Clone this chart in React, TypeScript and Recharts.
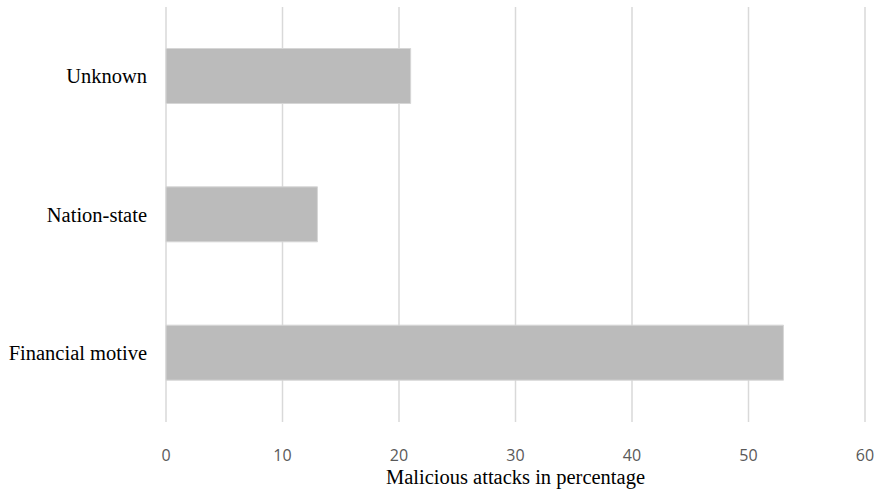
import React from 'react';
import { BarChart, Bar, XAxis, YAxis, CartesianGrid, Label } from 'recharts';

const motives = ['Unknown', 'Nation-state', 'Financial motive'];
const attackShare = [21, 13, 53];
const xTicks = [0, 10, 20, 30, 40, 50, 60];

const data = motives.map((motive, i) => ({ motive, share: attackShare[i] }));

const serif = '"Liberation Serif", "Times New Roman", serif';

// numeric ticks under the plot, in a light sans
const XTick = (props: any) => {
  const { x, y, payload } = props;
  return (
    <text
      x={x}
      y={y + 25}
      textAnchor="middle"
      dominantBaseline="central"
      style={{ fontFamily: '"Open Sans", sans-serif', fontSize: 16 }}
      fill="#595959"
    >
      {payload.value}
    </text>
  );
};

const YTick = (props: any) => {
  const { x, y, payload } = props;
  return (
    <text
      x={x - 11}
      y={y}
      textAnchor="end"
      dominantBaseline="central"
      style={{ fontFamily: serif, fontSize: 20.5 }}
      fill="#000000"
    >
      {payload.value}
    </text>
  );
};

const AxisTitle = (props: any) => {
  const { viewBox } = props;
  return (
    <text
      x={viewBox.x + viewBox.width / 2}
      y={viewBox.y + 55}
      textAnchor="middle"
      dominantBaseline="central"
      style={{ fontFamily: serif, fontSize: 20.5 }}
      fill="#000000"
    >
      Malicious attacks in percentage
    </text>
  );
};

export default function App() {
  return (
    <div style={{ position: 'absolute', left: 0, top: 0, width: 879, height: 489, background: '#ffffff' }}>
      <BarChart
        width={879}
        height={489}
        data={data}
        layout="vertical"
        margin={{ top: 7, right: 14, left: 0, bottom: 0 }}
        barCategoryGap="30%"
      >
        <CartesianGrid horizontal={false} stroke="#d9d9d9" strokeWidth={1.5} />
        <XAxis
          type="number"
          domain={[0, 60]}
          ticks={xTicks}
          axisLine={false}
          tickLine={false}
          tick={<XTick />}
          height={67}
        >
          <Label content={<AxisTitle />} />
        </XAxis>
        <YAxis
          type="category"
          dataKey="motive"
          width={166}
          axisLine={false}
          tickLine={false}
          tick={<YTick />}
        />
        <Bar
          dataKey="share"
          fill="#bbbbbb"
          stroke="#d6d6d6"
          strokeWidth={1}
          isAnimationActive={false}
        />
      </BarChart>
    </div>
  );
}
